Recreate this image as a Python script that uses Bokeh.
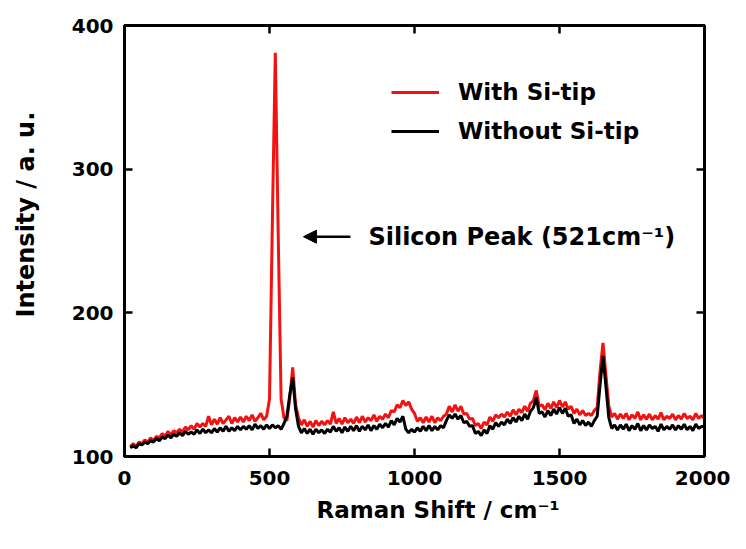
from bokeh.plotting import figure
from bokeh.models import (Range1d, LinearAxis, Legend, LegendItem, Label, Arrow,
                          NormalHead, FixedTicker, Title)
from bokeh.embed import file_html
from bokeh.resources import INLINE

# ---------------- data ----------------
wavenumber = list(range(20, 2001, 10))  # Raman shift, cm^-1

with_tip = [
    107, 109, 107, 110, 109, 111.5, 110, 113,
    111, 114, 113, 116, 114, 117.5, 115, 118, 116.5, 119,
    117, 120.5, 118.5, 121.5, 119, 123, 120.5, 123, 121, 128,
    122, 126, 122.5, 127, 123, 125.5, 128, 123, 127, 124,
    127.5, 124, 128, 125, 129, 124.5, 127, 130, 125.5, 128,
    140, 265, 381, 255, 140, 127, 125, 141, 162, 136,
    127, 122, 125.5, 121, 124.5, 120.5, 125, 121.5, 124.5, 122,
    125, 122.5, 131, 123, 126.5, 122.5, 127, 123.5, 126, 123,
    127.5, 123.5, 128, 124, 127, 125, 129, 124.5, 128, 126,
    129.5, 127, 132, 131, 136, 134, 139, 135.5, 138, 133,
    130, 124.5, 127, 123.5, 127.5, 124, 128, 123.5, 127, 125,
    128, 129.5, 135, 131, 136, 131.5, 135, 129.5, 130, 126,
    126.5, 121.5, 123, 119.5, 124, 122, 127.5, 124.5, 129, 127,
    129.5, 127.5, 131, 128, 132.5, 129, 133, 130.5, 135, 131.5,
    137, 139, 146, 135, 136, 132.5, 137, 133.5, 138, 134,
    139, 134.5, 138, 133, 135, 130, 133, 129, 132, 128.5,
    130, 128.5, 132, 134, 160, 179, 157, 135, 127.5, 130,
    126, 129.5, 126.5, 130, 125.5, 129, 126.5, 131, 125.5, 129,
    126, 129.5, 125.5, 128.5, 126, 130.5, 125.5, 128, 126.5, 129.5,
    125.5, 128.5, 126, 130, 126.5, 128, 125.5, 130, 126.5, 128.5,
    126.5,
]

without_tip = [
    106, 107.5, 106, 109, 108, 110, 109, 111,
    110, 112.5, 111, 113.5, 112.5, 115, 113, 115.5, 114, 116.5,
    114.5, 117.5, 115.5, 117, 115.5, 118.5, 116, 119, 116.5, 118.5,
    116.5, 119.5, 117, 120, 117.5, 121, 117.5, 120, 118, 121,
    118.5, 121, 119, 121.5, 118.5, 122.5, 119.5, 121.5, 119, 122,
    119.5, 122, 120, 121.5, 119, 123, 128, 143, 155, 133,
    121, 116.5, 119.5, 116, 119, 115.5, 119, 116.5, 118.5, 116,
    119, 117, 121, 117.5, 120, 116.5, 120.5, 117.5, 121, 118,
    121.5, 117.5, 121, 118.5, 122, 118, 121.5, 119, 122.5, 120,
    123, 120.5, 125, 122, 126.5, 124, 128, 119, 116.5, 119,
    117, 120, 117.5, 121, 118, 121.5, 118, 121, 118.5, 121.5,
    120, 125, 129, 126.5, 129.5, 126, 128.5, 123.5, 124.5, 121,
    121.5, 116, 117.5, 114.5, 118.5, 116, 121.5, 119, 123.5, 121,
    124, 122, 126, 123, 127, 124, 128, 125, 129.5, 126,
    131.5, 134, 141, 130, 131, 127.5, 132, 128.5, 133, 129.5,
    134, 130, 133.5, 128, 129, 123, 126, 122, 125, 121.5,
    124, 121, 125, 128, 150, 170, 149, 127, 119.5, 122,
    118.5, 122, 119, 122.5, 118, 121.5, 119, 123, 118, 121.5,
    118.5, 122, 119.5, 121, 117.5, 122.5, 118.5, 121, 119, 122,
    118.5, 121.5, 119, 122.5, 118.5, 121, 118, 122.5, 119.5, 121,
    120.5,
]

series_labels = ["With Si-tip", "Without Si-tip"]
x_ticks = [0, 500, 1000, 1500, 2000]
y_ticks = [100, 200, 300, 400]
x_title = "Raman Shift  / cm\u207b\u00b9"
y_title = "Intensity / a. u."
note_text = "Silicon Peak (521cm\u207b\u00b9)"

# annotation anchors (data units)
arrow_tip = (617, 253)
arrow_tail = (779, 253)
note_pos = (841, 253)

FONT = "DejaVu Sans"
W, H = 730, 533

p = figure(width=W, height=H, output_backend="svg", toolbar_location=None,
           x_range=Range1d(0, 2000), y_range=Range1d(100, 400),
           min_border_left=124, min_border_right=26,
           min_border_top=25, min_border_bottom=77)
p.grid.visible = False
p.background_fill_color = "white"
p.border_fill_color = "white"
p.outline_line_color = "black"
p.outline_line_width = 3

p.xaxis.ticker = FixedTicker(ticks=x_ticks)
p.yaxis.ticker = FixedTicker(ticks=y_ticks)

for ax in p.xaxis + p.yaxis:
    ax.axis_line_width = 3
    ax.major_tick_line_width = 2.5
    ax.major_tick_in = 8
    ax.major_tick_out = 0
    ax.minor_tick_line_color = None
    ax.major_label_text_font = FONT
    ax.major_label_text_font_style = "bold"
    ax.major_label_text_font_size = "20px"
    ax.major_label_text_color = "black"

p.xaxis.major_label_standoff = 14
p.yaxis.major_label_standoff = 11

# mirror axes (ticks only) on the right and top
for loc, tk in (("right", y_ticks), ("above", x_ticks)):
    ax = LinearAxis(ticker=FixedTicker(ticks=tk))
    ax.axis_line_width = 3
    ax.major_tick_line_width = 2.5
    ax.major_tick_in = 8
    ax.major_tick_out = 0
    ax.minor_tick_line_color = None
    ax.major_label_text_color = None
    ax.major_label_text_font_size = "1px"
    ax.major_label_standoff = 0
    p.add_layout(ax, loc)

# blank spacer between the y tick labels and the y title
spacer = LinearAxis(ticker=FixedTicker(ticks=[y_ticks[0]]), axis_line_color=None,
                    major_tick_line_color="white", minor_tick_line_color=None,
                    major_tick_in=0, major_tick_out=23, major_label_standoff=0,
                    major_label_text_color=None, major_label_text_font_size="1px")
p.add_layout(spacer, "left")

# axis titles (offset along the axis like the reference)
p.add_layout(Title(text=y_title, align="left", offset=139, vertical_align="middle",
                   standoff=10, text_font=FONT, text_font_style="bold",
                   text_font_size="24px", text_color="black"), "left")
p.add_layout(Title(text=x_title, align="left", offset=192, vertical_align="bottom",
                   standoff=14, text_font=FONT, text_font_style="bold",
                   text_font_size="23px", text_color="black"), "below")

r_with = p.line(wavenumber, with_tip, line_color="#f21212", line_width=3)
r_without = p.line(wavenumber, without_tip, line_color="black", line_width=3)

legend = Legend(items=[LegendItem(label=series_labels[0], renderers=[r_with]),
                       LegendItem(label=series_labels[1], renderers=[r_without])],
                location=(267, 310), margin=0, padding=0, spacing=9,
                glyph_width=48, glyph_height=30, label_height=30,
                label_standoff=19, border_line_color=None,
                background_fill_alpha=0,
                label_text_font=FONT, label_text_font_style="bold",
                label_text_font_size="23px", label_text_color="black")
p.add_layout(legend)

p.add_layout(Arrow(end=NormalHead(size=13, fill_color="black", line_color="black"),
                   x_start=arrow_tail[0], y_start=arrow_tail[1],
                   x_end=arrow_tip[0], y_end=arrow_tip[1],
                   line_width=2.5, line_color="black"))
p.add_layout(Label(x=note_pos[0], y=note_pos[1], text=note_text,
                   text_font=FONT, text_font_style="bold", text_font_size="24px",
                   text_baseline="middle", text_color="black"))

open("out.html", "w").write(file_html(p, INLINE))
